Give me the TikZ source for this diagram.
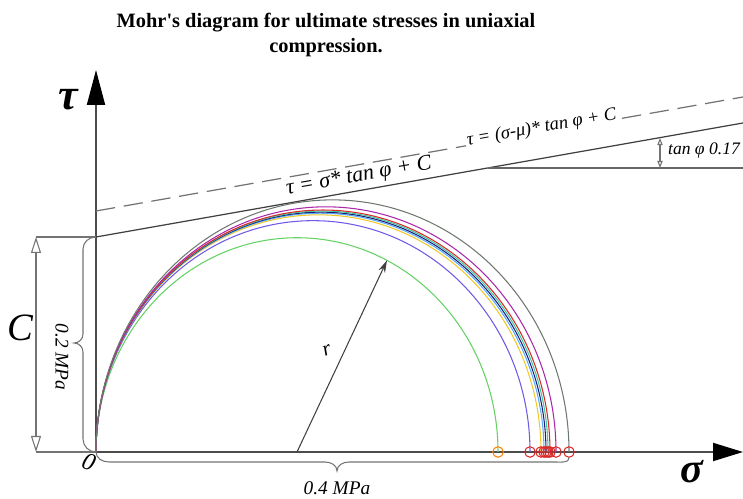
\documentclass[tikz,border=0pt]{standalone}
\usepackage{fontspec}
\setmainfont{Liberation Serif}
\usepackage{xcolor}
\usetikzlibrary{arrows.meta,calc}
\definecolor{cGreen}{RGB}{100,210,100}
\definecolor{cViolet}{RGB}{110,90,230}
\definecolor{cYellow}{RGB}{240,200,40}
\definecolor{cBlue}{RGB}{90,170,255}
\definecolor{cNavy}{RGB}{30,30,120}
\definecolor{cTeal}{RGB}{60,200,160}
\definecolor{cRed}{RGB}{220,40,40}
\definecolor{cMagenta}{RGB}{170,40,170}
\definecolor{cGray}{RGB}{110,120,110}

\begin{document}
\begin{tikzpicture}
		[x=0.02cm,y=0.02cm,
		axisDecorate/.style={draw=black!70,line width=1.1pt},
		lineDecorate/.style={draw=black!75,line width=0.7pt},
		dimDecorate/.style={draw=black!55,line width=0.6pt},
		circDecorate/.style={line width=0.6pt},
		markDecorate/.style={shape=circle,draw=cRed,line width=0.6pt,inner sep=0pt,minimum size=6pt},
		labelDecorate/.style={font=\itshape\fontsize{10.5}{12}\selectfont,inner sep=1pt}]
		\useasboundingbox (0,0) rectangle (743,499);
		%% title
		\node (title) at (326,464) [align=center,font=\bfseries\fontsize{11.6}{14.7}\selectfont]
			{Mohr\textquotesingle s diagram for ultimate stresses in uniaxial\\compression.};
		%% axes
		\coordinate (O) at (96,47);
		\coordinate (sigTip) at (743,47);
		\coordinate (tauTip) at (96,429);
		\draw[axisDecorate,-{Triangle[length=0.6cm,width=0.36cm,color=black]}] (O) -- (sigTip);
		\draw[axisDecorate,-{Triangle[length=0.7cm,width=0.36cm,color=black]}] (O) -- (tauTip);
		\node (tau) at (68,399) [font=\bfseries\itshape\fontsize{25}{28}\selectfont] {τ};
		\node (sigma) at (692,27) [font=\bfseries\itshape\fontsize{24}{26}\selectfont] {σ};
		\node (zero) at (89,37) [rotate=-20,font=\itshape\fontsize{14}{16}\selectfont] {0};
		%% strength envelopes
		\coordinate (tA) at (96,262);
		\coordinate (tB) at (743,376);
		\coordinate (dA) at (96,288);
		\coordinate (dB) at (743,402);
		\draw[lineDecorate] (tA) -- node[pos=0.41,sloped,above=1pt,labelDecorate,font=\itshape\fontsize{12.5}{14}\selectfont] (eqA) {τ = σ* tan φ + C} (tB);
		\draw[lineDecorate,draw=black!55,dash pattern=on 11pt off 5pt] (dA) -- node[pos=0.69,sloped,anchor=base,fill=white,labelDecorate] (eqB) {τ = (σ-μ)* tan φ + C} (dB);
		%% slope mark
		\coordinate (hA) at (488,331);
		\coordinate (hB) at (743,331);
		\coordinate (aB) at (660,331);
		\coordinate (aT) at (660,361);
		\draw[lineDecorate,draw=black!60] (hA) -- (hB);
		\draw[dimDecorate,{Triangle[open,length=4pt,width=3pt]}-{Triangle[open,length=4pt,width=3pt]}] (aB) -- (aT);
		\node (tanlab) at (666,348) [anchor=west,labelDecorate,font=\itshape\fontsize{10}{12}\selectfont] {tan φ 0.17};
		%% Mohr circles
		\foreach \xe/\col in {
			498/cGreen, 530/cViolet, 541/cYellow, 544/cBlue, 546/cNavy,
			548/cTeal, 550/cRed, 556/cMagenta, 569/cGray}
		{
			\draw[circDecorate,\col] (O) arc[start angle=180,end angle=0,x radius={(\xe-96)/2},y radius={1.066*(\xe-96)/2}];
		}
		\node (m498) at (498,47) [markDecorate,draw=orange] {};
		\foreach \xe in {530,541,544,546,548,550,556,569}
		{
			\node (m\xe) at (\xe,47) [markDecorate] {};
		}
		%% radius
		\coordinate (rC) at (297,47);
		\coordinate (rE) at ($(rC)+(63.4:201 and 214.3)$);
		\draw[dimDecorate,draw=black!75,-{Stealth[length=7pt,width=4pt]}] (rC) -- (rE);
		\node (rlab) at (327,149) [rotate=20,labelDecorate,font=\itshape\fontsize{12}{14}\selectfont] {r};
		%% dimension C
		\coordinate (cT) at (36,262);
		\coordinate (cB) at (36,47);
		\draw[dimDecorate] (cT) -- (tA);
		\draw[dimDecorate] (cB) -- (O);
		\draw[dimDecorate,{Triangle[open,length=0.32cm,width=0.2cm]}-{Triangle[open,length=0.32cm,width=0.2cm]}] (cT) -- (cB);
		\node (clab) at (20,171) [font=\itshape\fontsize{22}{24}\selectfont] {C};
		%% braces
		\draw[dimDecorate] (tA) to[out=180,in=90] (83,250) -- (83,165)
			to[out=-90,in=0] (74,156) to[out=0,in=90] (83,147) -- (83,60) to[out=-90,in=180] (O);
		\node (lab02) at (62,142) [rotate=-90,labelDecorate,font=\itshape\fontsize{11}{12}\selectfont] {0.2 MPa};
		\draw[dimDecorate] (O) to[out=-90,in=180] (109,37) -- (325,37)
			to[out=0,in=90] (337,28) to[out=90,in=180] (349,37) -- (556,37) to[out=0,in=-90] (m569.south);
		\node (lab04) at (337,11) [labelDecorate,font=\itshape\fontsize{11}{12}\selectfont] {0.4 MPa};
	\end{tikzpicture}
\end{document}
